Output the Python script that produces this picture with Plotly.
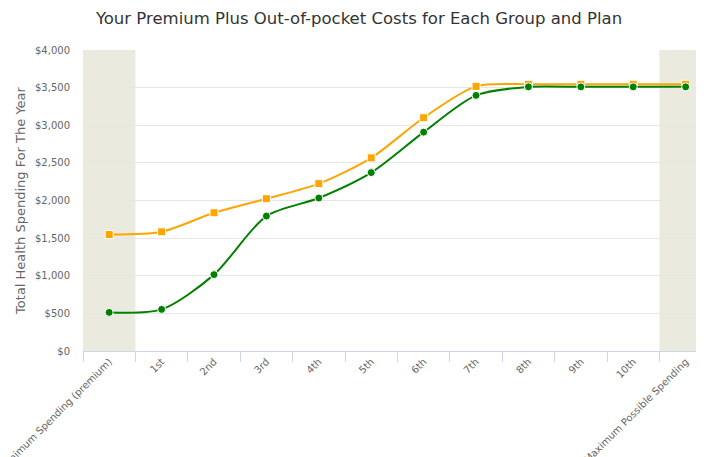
import plotly.graph_objects as go

categories = ["Minimum Spending (premium)", "1st", "2nd", "3rd", "4th", "5th", "6th",
              "7th", "8th", "9th", "10th", "Maximum Possible Spending"]
plan_orange = [1548, 1584, 1837, 2024, 2224, 2567, 3100, 3517, 3545, 3545, 3545, 3545]
plan_green = [513, 553, 1015, 1793, 2033, 2371, 2908, 3397, 3510, 3510, 3510, 3510]
y_ticks = [0, 500, 1000, 1500, 2000, 2500, 3000, 3500, 4000]
y_tick_labels = ["$0", "$500", "$1,000", "$1,500", "$2,000", "$2,500", "$3,000", "$3,500", "$4,000"]
bands = [(-0.5, 0.5), (10.5, 11.5)]

FONT = "DejaVu Sans"
W, H = 696, 449  # page body has an 8px margin

fig = go.Figure()
fig.add_trace(go.Scatter(
    x=categories, y=plan_orange, mode="lines+markers",
    line=dict(color="#FFA500", width=2, shape="spline", smoothing=0.8),
    marker=dict(symbol="square", size=8, color="#FFA500", line=dict(color="white", width=1)),
    name="Plan A", showlegend=False))
fig.add_trace(go.Scatter(
    x=categories, y=plan_green, mode="lines+markers",
    line=dict(color="#008000", width=2, shape="spline", smoothing=0.8),
    marker=dict(symbol="circle", size=8, color="#008000", line=dict(color="white", width=1)),
    name="Plan B", showlegend=False))

for b0, b1 in bands:
    fig.add_shape(type="rect", xref="x", yref="paper", x0=b0, x1=b1, y0=0, y1=1,
                  fillcolor="#EAEADF", line=dict(width=0), layer="below")

fig.update_layout(
    width=W, height=H,
    margin=dict(l=75, r=0, t=42, b=106, autoexpand=False),
    paper_bgcolor="white", plot_bgcolor="white",
    title=dict(text="Your Premium Plus Out-of-pocket Costs for Each Group and Plan",
               x=351 / W, xanchor="center", y=1 - 10 / H, yanchor="middle",
               font=dict(family=FONT, size=16.5, color="#333333")),
    font=dict(family=FONT, color="#666666"),
)
fig.update_xaxes(
    type="category", automargin=False,
    range=[-0.5, 11.35], tickangle=-45, tickson="boundaries", ticks="outside", ticklen=10,
    tickcolor="#ccd6eb", showline=True, linecolor="#ccd6eb", linewidth=1,
    showgrid=False, zeroline=False, tickfont=dict(family=FONT, size=10, color="#666666"))
fig.update_yaxes(
    automargin=False,
    range=[0, 4000], tickmode="array", tickvals=y_ticks, ticktext=y_tick_labels,
    showgrid=True, gridcolor="#e6e6e6", zeroline=False, showline=False,
    ticklabelstandoff=12, tickfont=dict(family=FONT, size=10, color="#666666"),
    title=dict(text="Total Health Spending For The Year", standoff=6,
               font=dict(family=FONT, size=13, color="#666666")))

fig.write_html("out.html")
